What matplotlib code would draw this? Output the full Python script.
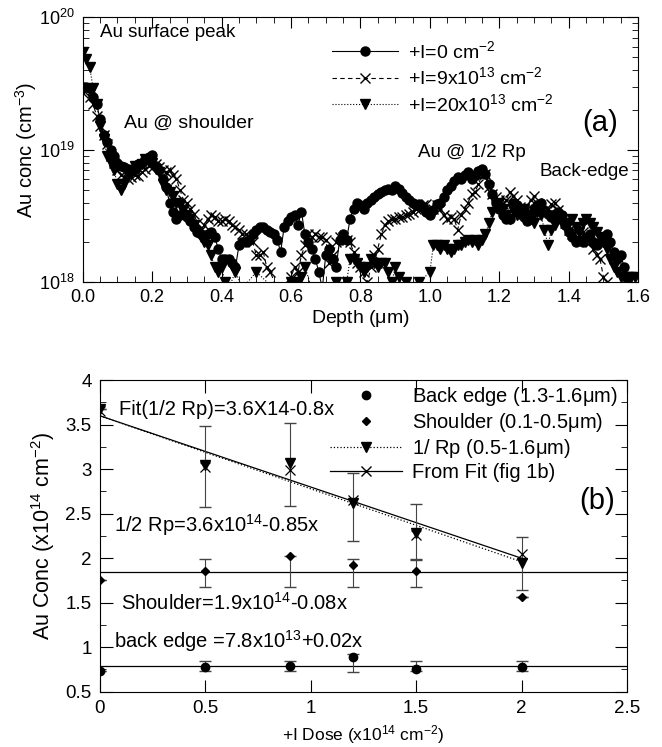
import numpy as np
import matplotlib
matplotlib.use("Agg")
import matplotlib.pyplot as plt
from matplotlib.lines import Line2D
from matplotlib.ticker import MultipleLocator, LogLocator, NullFormatter

plt.rcParams['font.family'] = ['Liberation Sans', 'DejaVu Sans']
plt.rcParams['mathtext.fontset'] = 'custom'
plt.rcParams['mathtext.rm'] = 'Liberation Sans'
plt.rcParams['mathtext.it'] = 'Liberation Sans'

# ---- panel (a): Au depth profiles, conc in units of 1e18 cm^-3 ----
depth_0 = [0.00, 0.01, 0.02, 0.03, 0.04, 0.05, 0.06, 0.07, 0.08, 0.09, 0.10, 0.11, 0.12, 0.13, 0.14,
           0.15, 0.16, 0.17, 0.18, 0.19, 0.20, 0.21, 0.22, 0.23, 0.24, 0.25, 0.26, 0.27, 0.28, 0.29,
           0.30, 0.31, 0.32, 0.33, 0.34, 0.35, 0.36, 0.37, 0.38, 0.39, 0.40, 0.41, 0.42, 0.43, 0.44,
           0.45, 0.46, 0.47, 0.48, 0.49, 0.50, 0.51, 0.52, 0.53, 0.54, 0.55, 0.56, 0.57, 0.58, 0.59,
           0.60, 0.61, 0.62, 0.63, 0.64, 0.65, 0.66, 0.67, 0.68, 0.69, 0.70, 0.71, 0.72, 0.73, 0.74,
           0.75, 0.76, 0.77, 0.78, 0.79, 0.80, 0.81, 0.82, 0.83, 0.84, 0.85, 0.86, 0.87, 0.88, 0.89,
           0.90, 0.91, 0.92, 0.93, 0.94, 0.95, 0.96, 0.97, 0.98, 0.99, 1.00, 1.01, 1.02, 1.03, 1.04,
           1.05, 1.06, 1.07, 1.08, 1.09, 1.10, 1.11, 1.12, 1.13, 1.14, 1.15, 1.16, 1.17, 1.18, 1.19,
           1.20, 1.21, 1.22, 1.23, 1.24, 1.25, 1.26, 1.27, 1.28, 1.29, 1.30, 1.31, 1.32, 1.33, 1.34,
           1.35, 1.36, 1.37, 1.38, 1.39, 1.40, 1.41, 1.42, 1.43, 1.44, 1.45, 1.46, 1.47, 1.48, 1.49,
           1.50, 1.51, 1.52, 1.53, 1.54, 1.55, 1.56, 1.57]
conc_0 = [30, 30, 29, 25, 22, 17, 13, 11.5, 10, 9, 8, 7.6, 7.4, 7.2, 7.0,
          7.3, 7.8, 8.0, 8.5, 8.8, 9.2, 7.6, 7.0, 6.0, 5.2, 4.0, 3.4, 3.0, 3.2, 3.3,
          3.1, 2.9, 2.6, 2.4, 2.3, 2.2, 2.3, 2.4, 2.2, 1.8, 1.5, 1.5, 1.5, 1.4, 1.3,
          1.9, 2.0, 2.0, 2.1, 2.3, 2.5, 2.6, 2.6, 2.5, 2.4, 2.3, 2.1, 1.7, 2.6, 2.9,
          3.1, 3.2, 2.7, 3.4, 2.3, 2.0, 1.8, 1.5, 1.2, 0.9, 1.6, 1.8, 1.5, 1.3, 2.1,
          2.3, 2.1, 3.0, 3.6, 4.0, 3.8, 3.6, 4.0, 4.2, 4.4, 4.6, 4.8, 5.0, 5.1, 5.0,
          5.3, 5.1, 4.7, 4.4, 4.2, 4.0, 3.8, 3.9, 3.7, 3.4, 3.2, 3.5, 3.9, 4.0, 4.4,
          5.0, 5.3, 5.8, 6.2, 6.0, 6.5, 6.8, 6.0, 6.4, 6.9, 7.2, 6.6, 5.5, 4.6, 4.0,
          3.6, 3.2, 3.0, 3.0, 4.0, 3.8, 3.3, 3.1, 2.9, 3.2, 3.6, 3.8, 4.0, 3.5, 3.3,
          3.1, 3.3, 3.4, 3.2, 2.7, 2.4, 2.2, 2.0, 2.1, 2.0, 2.2, 2.3, 2.0, 1.9, 2.0,
          2.2, 2.3, 2.0, 1.7, 1.5, 1.6, 1.3, 1.1]

depth_9 = [0.00, 0.01, 0.02, 0.03, 0.04, 0.05, 0.06, 0.07, 0.08, 0.09, 0.10, 0.11, 0.12, 0.13, 0.14,
           0.15, 0.16, 0.17, 0.18, 0.19, 0.20, 0.21, 0.22, 0.23, 0.24, 0.25, 0.26, 0.27, 0.28, 0.29,
           0.30, 0.31, 0.32, 0.33, 0.34, 0.35, 0.36, 0.37, 0.38, 0.39, 0.40, 0.41, 0.42, 0.43, 0.44,
           0.45, 0.46, 0.47, 0.48, 0.49, 0.50, 0.51, 0.52, 0.53, 0.54, 0.56, 0.58, 0.60, 0.61, 0.62,
           0.63, 0.64, 0.65, 0.66, 0.67, 0.68, 0.69, 0.70, 0.71, 0.72, 0.73, 0.74, 0.75, 0.76, 0.77,
           0.78, 0.79, 0.80, 0.81, 0.82, 0.83, 0.84, 0.85, 0.86, 0.87, 0.88, 0.89, 0.90, 0.91, 0.92,
           0.93, 0.94, 0.95, 0.96, 0.97, 0.98, 0.99, 1.00, 1.01, 1.02, 1.03, 1.04, 1.05, 1.06, 1.07,
           1.08, 1.09, 1.10, 1.11, 1.12, 1.13, 1.14, 1.15, 1.16, 1.17, 1.18, 1.19, 1.20, 1.21, 1.22,
           1.23, 1.24, 1.25, 1.26, 1.27, 1.28, 1.29, 1.30, 1.31, 1.32, 1.33, 1.34, 1.35, 1.36, 1.37,
           1.38, 1.39, 1.40, 1.41, 1.42, 1.43, 1.44, 1.45, 1.46, 1.47, 1.48, 1.49, 1.50, 1.51]
conc_9 = [27, 28, 25, 22, 18, 15, 13, 11, 9, 8, 7, 6.5, 6.2, 6.0, 6.2,
          6.5, 6.3, 6.8, 7.2, 7.5, 7.3, 7.8, 7.4, 7.0, 6.8, 7.0, 6.5, 6.0, 5.0, 4.2,
          4.0, 3.6, 3.3, 2.8, 2.5, 2.7, 3.0, 3.2, 3.1, 2.9, 2.9, 3.0, 2.9, 2.7, 2.6,
          2.5, 2.3, 2.3, 2.2, 2.0, 1.6, 1.6, 1.7, 1.3, 1.2, 0.9, 0.9, 1.1, 1.3, 1.2,
          1.6, 1.9, 2.3, 2.2, 2.3, 2.2, 2.2, 2.1, 1.4, 1.6, 2.0, 2.2, 2.2, 2.1, 2.0,
          1.7, 1.4, 1.3, 1.2, 1.0, 1.3, 1.6, 1.8, 2.3, 2.7, 2.9, 3.0, 3.0, 3.1, 3.1,
          3.2, 3.3, 3.4, 3.6, 3.5, 3.8, 3.9, 3.5, 3.6, 3.8, 3.6, 3.2, 3.0, 3.1, 3.0,
          2.5, 3.2, 3.6, 4.0, 4.6, 4.8, 5.5, 6.5, 6.6, 5.2, 4.6, 4.4, 4.2, 3.9, 4.2,
          4.8, 4.5, 4.2, 3.7, 3.5, 3.6, 4.2, 4.5, 4.0, 3.4, 3.3, 3.6, 3.9, 4.0, 3.5,
          3.0, 2.8, 2.5, 2.3, 2.4, 2.6, 2.4, 2.2, 2.0, 1.8, 1.6, 1.5, 1.1, 1.0]

depth_20 = [0.00, 0.01, 0.02, 0.03, 0.04, 0.05, 0.06, 0.07, 0.08, 0.09, 0.10, 0.11, 0.12, 0.13, 0.14,
            0.15, 0.16, 0.17, 0.18, 0.19, 0.20, 0.21, 0.22, 0.23, 0.24, 0.25, 0.26, 0.27, 0.28, 0.29,
            0.30, 0.31, 0.32, 0.33, 0.34, 0.35, 0.36, 0.37, 0.38, 0.39, 0.40, 0.41, 0.42, 0.44, 0.46,
            0.50, 0.55, 0.60, 0.62, 0.63, 0.64, 0.66, 0.70, 0.73, 0.76, 0.77, 0.78, 0.79, 0.80, 0.81,
            0.82, 0.83, 0.84, 0.85, 0.86, 0.87, 0.88, 0.89, 0.90, 0.91, 0.93, 0.97, 1.00, 1.01, 1.02,
            1.03, 1.04, 1.05, 1.06, 1.07, 1.08, 1.09, 1.10, 1.11, 1.12, 1.13, 1.14, 1.15, 1.16, 1.17,
            1.18, 1.19, 1.20, 1.21, 1.22, 1.23, 1.24, 1.25, 1.26, 1.27, 1.28, 1.29, 1.30, 1.31, 1.32,
            1.33, 1.34, 1.35, 1.36, 1.37, 1.38, 1.39, 1.40, 1.41, 1.42, 1.43, 1.44, 1.45, 1.46, 1.47,
            1.48, 1.49, 1.50, 1.51, 1.52, 1.53, 1.54, 1.55, 1.56, 1.57, 1.58, 1.59]
conc_20 = [55, 48, 42, 29, 22, 15, 12, 9, 8, 7, 5.5, 5.0, 5.5, 6.5, 7.0,
           7.5, 7.2, 7.8, 8.5, 8.2, 8.0, 7.2, 6.8, 5.5, 5.0, 4.8, 4.5, 4.0, 3.8, 3.5,
           3.2, 3.0, 2.7, 2.4, 2.2, 2.0, 1.9, 1.6, 1.3, 1.2, 1.3, 1.0, 0.9, 1.2, 0.9,
           1.2, 0.9, 1.0, 1.0, 1.1, 1.3, 0.9, 0.9, 1.0, 1.0, 1.5, 1.5, 1.4, 1.3, 1.2,
           1.3, 1.5, 1.4, 1.3, 1.4, 1.4, 1.2, 1.0, 1.3, 1.1, 1.0, 1.0, 1.2, 1.9, 1.9,
           1.8, 1.9, 1.8, 1.7, 1.8, 1.9, 1.9, 2.0, 2.1, 2.0, 2.1, 1.9, 2.1, 2.3, 2.8,
           3.4, 3.9, 4.0, 3.6, 3.2, 3.0, 3.5, 3.2, 3.4, 3.6, 3.2, 3.0, 2.8, 3.4, 3.2,
           2.5, 1.9, 2.5, 2.7, 3.0, 2.8, 2.6, 2.8, 3.0, 2.6, 2.4, 2.8, 3.0, 2.8, 2.6,
           2.4, 2.2, 2.0, 1.8, 1.5, 1.3, 1.2, 1.1, 1.1, 1.1, 1.1, 1.1]

# ---- panel (b): integrated Au vs +I dose ----
dose = [0, 0.5, 0.9, 1.2, 1.5, 2.0]
back_edge = [0.73, 0.78, 0.79, 0.89, 0.75, 0.78]
back_lo = [0.0, 0.05, 0.06, 0.17, 0.02, 0.05]
back_hi = [0.0, 0.07, 0.06, 0.03, 0.10, 0.07]
shoulder = [1.76, 1.86, 2.02, 1.92, 1.86, 1.56]
sh_lo = [0.0, 0.18, 0.34, 0.24, 0.18, 0.0]
sh_hi = [0.0, 0.13, 0.0, 0.07, 0.13, 0.0]
rp = [3.68, 3.05, 3.07, 2.62, 2.28, 1.95]
rp_lo = [0.0, 0.47, 0.48, 0.43, 0.30, 0.31]
rp_hi = [0.0, 0.44, 0.45, 0.34, 0.33, 0.29]
from_fit = [3.65, 3.03, 2.99, 2.65, 2.26, 2.05]

fit_rp = (3.6, -0.8)      # solid
fit_half = (3.6, -0.82)   # dotted
fit_shoulder = 1.84
fit_back = 0.79

fig = plt.figure(figsize=(6.62, 7.47), dpi=100)

# ---------- (a) ----------
ax1 = fig.add_axes([0.125, 0.622, 0.839, 0.355])
s = 1e18
ax1.plot(depth_0, np.array(conc_0) * s, '-', color='k', lw=0.8, marker='o', ms=6.5,
         label=r'+I=0 cm$^{-2}$')
ax1.plot(depth_9, np.array(conc_9) * s, '--', color='k', lw=0.8, marker='x', ms=6.5, mew=1.0,
         label=r'+I=9x10$^{13}$ cm$^{-2}$', dashes=(4, 3))
ax1.plot(depth_20, np.array(conc_20) * s, ':', color='k', lw=0.8, marker='v', ms=6.5,
         label=r'+I=20x10$^{13}$ cm$^{-2}$')
ax1.set_yscale('log')
ax1.set_xlim(0, 1.6)
ax1.set_ylim(1e18, 1e20)
ax1.xaxis.set_major_locator(MultipleLocator(0.2))
ax1.xaxis.set_minor_locator(MultipleLocator(0.05))
ax1.yaxis.set_minor_locator(LogLocator(base=10, subs=np.arange(2, 10)))
ax1.yaxis.set_minor_formatter(NullFormatter())
ax1.tick_params(which='both', direction='in', top=True, right=True, labelsize=13)
ax1.tick_params(which='major', length=8)
ax1.tick_params(which='minor', length=4)
ax1.tick_params(axis='y', pad=6)
ax1.tick_params(axis='x', pad=5)
ax1.set_xlabel(r'Depth ($\mu$m)', fontsize=14, labelpad=1)
ax1.set_ylabel(r'Au conc (cm$^{-3}$)', fontsize=14.5, labelpad=0)
ax1.text(0.05, 7.6e19, 'Au surface peak', fontsize=13.5, va='center')
ax1.text(0.118, 1.58e19, 'Au @ shoulder', fontsize=14, va='center')
ax1.text(0.965, 9.6e18, 'Au @ 1/2 Rp', fontsize=13.5, va='center')
ax1.text(1.316, 6.8e18, 'Back-edge', fontsize=13.5, va='center')
ax1.text(1.44, 1.6e19, '(a)', fontsize=21, va='center')
ax1.legend(loc='upper left', bbox_to_anchor=(0.449, 0.915), frameon=False, fontsize=14,
           handlelength=3.4, labelspacing=0.25, handletextpad=0.5, borderpad=0,
           borderaxespad=0)
for sp in ax1.spines.values():
    sp.set_linewidth(0.8)

# ---------- (b) ----------
ax2 = fig.add_axes([0.151, 0.074, 0.796, 0.417])
xs = np.array([0.0, 2.0])
ax2.plot(xs, fit_rp[0] + fit_rp[1] * xs, '-', color='k', lw=0.9)
ax2.plot(xs, fit_half[0] + fit_half[1] * xs, ':', color='k', lw=0.9)
xf = np.array([0.0, 2.5])
ax2.plot(xf, [fit_shoulder] * 2, '-', color='k', lw=0.9)
ax2.plot(xf, [fit_back] * 2, '-', color='k', lw=0.9)

ax2.errorbar(dose, back_edge, yerr=[back_lo, back_hi], fmt='o', color='k', ms=6,
             ecolor='#444444', elinewidth=0.8, capsize=4.5)
ax2.errorbar(dose, shoulder, yerr=[sh_lo, sh_hi], fmt='D', color='k', ms=4.5,
             ecolor='#444444', elinewidth=0.8, capsize=4.5)
ax2.errorbar(dose, rp, yerr=[rp_lo, rp_hi], fmt='v', color='k', ms=6.5,
             ecolor='#444444', elinewidth=0.8, capsize=4.5)
ax2.plot(dose, from_fit, 'x', color='k', ms=7, mew=0.9)

handles = [
    Line2D([], [], ls='none', marker='o', color='k', ms=6),
    Line2D([], [], ls='none', marker='D', color='k', ms=4.5),
    Line2D([], [], ls=':', marker='v', color='k', ms=6.5, lw=0.9),
    Line2D([], [], ls='-', marker='x', color='k', ms=7, lw=0.9),
]
labels = [r'Back edge (1.3-1.6$\mu$m)', r'Shoulder (0.1-0.5$\mu$m)',
          r'1/ Rp (0.5-1.6$\mu$m)', 'From Fit (fig 1b)']
ax2.legend(handles, labels, loc='upper left', bbox_to_anchor=(0.436, 0.985), frameon=False,
           fontsize=14.5, handlelength=3.6, labelspacing=0.15, handletextpad=0.5,
           borderpad=0, borderaxespad=0)

ax2.set_xlim(0, 2.5)
ax2.set_ylim(0.5, 4)
ax2.set_xticks([0, 0.5, 1, 1.5, 2, 2.5])
ax2.set_xticklabels(['0', '0.5', '1', '1.5', '2', '2.5'])
ax2.set_yticks([0.5, 1, 1.5, 2, 2.5, 3, 3.5, 4])
ax2.set_yticklabels(['0.5', '1', '1.5', '2', '2.5', '3', '3.5', '4'])
ax2.yaxis.set_minor_locator(MultipleLocator(0.25))
ax2.tick_params(which='both', direction='in', top=True, right=True, labelsize=13.5)
ax2.tick_params(which='major', length=9, pad=6)
ax2.tick_params(which='minor', length=4)
ax2.set_xlabel(r'+I Dose (x10$^{14}$ cm$^{-2}$)', fontsize=12.5, labelpad=4)
ax2.set_ylabel(r'Au Conc (x10$^{14}$ cm$^{-2}$)', fontsize=15.5, labelpad=6)
ax2.text(0.09, 3.67, 'Fit(1/2 Rp)=3.6X14-0.8x', fontsize=14.5, va='center')
ax2.text(0.066, 2.37, r'1/2 Rp=3.6x10$^{14}$-0.85x', fontsize=14.5, va='center')
ax2.text(0.1, 1.5, r'Shoulder=1.9x10$^{14}$-0.08x', fontsize=14.5, va='center')
ax2.text(0.066, 1.07, r'back edge =7.8x10$^{13}$+0.02x', fontsize=14.5, va='center')
ax2.text(2.275, 2.64, '(b)', fontsize=21, va='center')
for sp in ax2.spines.values():
    sp.set_linewidth(0.8)

fig.savefig('out.png', dpi=100)
